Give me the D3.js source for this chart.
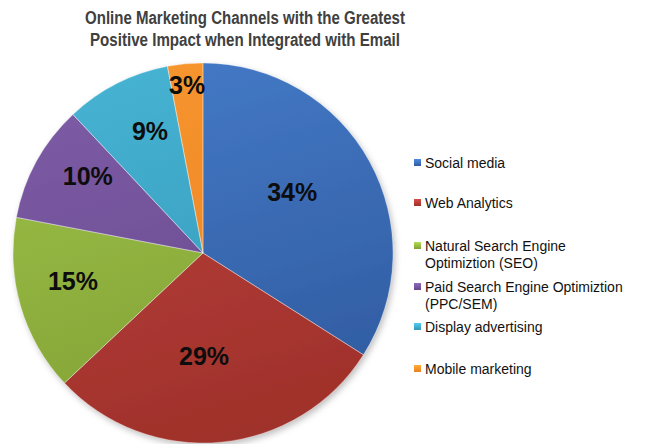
<!DOCTYPE html>
<html><head><meta charset="utf-8">
<script src="https://cdn.jsdelivr.net/npm/d3@7"></script>
<style>html,body{margin:0;padding:0;background:#fff;}svg{display:block;}</style>
</head><body>
<script>
const categories = ["Social media","Web Analytics","Natural Search Engine Optimiztion (SEO)","Paid Search Engine Optimiztion (PPC/SEM)","Display advertising","Mobile marketing"];
const legendLines = [["Social media"],["Web Analytics"],["Natural Search Engine","Optimiztion (SEO)"],["Paid Search Engine Optimiztion","(PPC/SEM)"],["Display advertising"],["Mobile marketing"]];
const values = [34,29,15,10,9,3];
const valueLabels = ["34%","29%","15%","10%","9%","3%"];
const titleLines = ["Online Marketing Channels with the Greatest","Positive Impact when Integrated with Email"];
const colorsTop = ["#4479C6","#BC423D","#9CC048","#7D5CA6","#46B2D2","#F7952F"];
const colorsBot = ["#2F5A9E","#9E302A","#809F33","#654689","#3596B8","#E97F20"];
const labelRadius = [0.57,0.54,0.70,0.73,0.70,0.89];
const labelAngleShift = [-5.8,4.8,4.2,5,3.5,0];
const legendY = [163,203,246,287,327,369];

const W=652,H=444;
const svg=d3.select("body").append("svg").attr("width",W).attr("height",H);
const defs=svg.append("defs");
const cx=203, cy=253, R=190;

const f=defs.append("filter").attr("id","sh").attr("x","-20%").attr("y","-20%").attr("width","140%").attr("height","140%");
f.append("feDropShadow").attr("dx",2).attr("dy",3).attr("stdDeviation",3).attr("flood-color","#000").attr("flood-opacity",0.25);

categories.forEach((c,i)=>{
  const g=defs.append("linearGradient").attr("id","g"+i).attr("gradientUnits","userSpaceOnUse")
    .attr("x1",-R*0.3).attr("y1",-R).attr("x2",R*0.3).attr("y2",R);
  g.append("stop").attr("offset","0%").attr("stop-color",colorsTop[i]);
  g.append("stop").attr("offset","100%").attr("stop-color",colorsBot[i]);
  const m=defs.append("linearGradient").attr("id","m"+i).attr("x1",0).attr("y1",0).attr("x2",0).attr("y2",1);
  m.append("stop").attr("offset","0%").attr("stop-color",d3.color(colorsTop[i]).brighter(0.4));
  m.append("stop").attr("offset","100%").attr("stop-color",colorsBot[i]);
});

// title
const title=svg.append("g").attr("font-family","Liberation Sans, Arial, sans-serif").attr("font-weight","bold").attr("font-size",18).attr("fill","#404040").attr("text-anchor","middle");
const tw=[320,310];
titleLines.forEach((t,i)=>{
  title.append("text").attr("x",245).attr("y",24+i*22).attr("textLength",tw[i]).attr("lengthAdjust","spacingAndGlyphs").text(t);
});

const pie=d3.pie().sort(null).value(d=>d)(values);
const arc=d3.arc().innerRadius(0).outerRadius(R);
const gp=svg.append("g").attr("transform",`translate(${cx},${cy})`);
gp.append("g").attr("filter","url(#sh)").selectAll("path").data(pie).join("path")
  .attr("d",arc).attr("fill",(d,i)=>`url(#g${i})`);
gp.selectAll("path.edge").data(pie).join("path").attr("class","edge")
  .attr("d",arc).attr("fill","none").attr("stroke","rgba(255,255,255,0.3)").attr("stroke-width",1);

gp.selectAll("text").data(pie).join("text")
  .attr("transform",(d,i)=>{const a=(d.startAngle+d.endAngle)/2+labelAngleShift[i]*Math.PI/180; const r=R*labelRadius[i]; return `translate(${r*Math.sin(a)},${-r*Math.cos(a)})`;})
  .attr("text-anchor","middle").attr("dy","0.36em")
  .attr("font-family","Liberation Sans, Arial, sans-serif").attr("font-weight","bold").attr("font-size",25).attr("fill","#0d0d0d")
  .text((d,i)=>valueLabels[i]);

// legend
const lg=svg.append("g").attr("font-family","Liberation Sans, Arial, sans-serif").attr("font-size",14).attr("fill","#111");
categories.forEach((c,i)=>{
  const y=legendY[i];
  lg.append("rect").attr("x",414).attr("y",y-4).attr("width",7).attr("height",7).attr("fill",`url(#m${i})`);
  legendLines[i].forEach((l,j)=>{
    lg.append("text").attr("x",425).attr("y",y+5+j*16.5).text(l);
  });
});
</script>
</body></html>
